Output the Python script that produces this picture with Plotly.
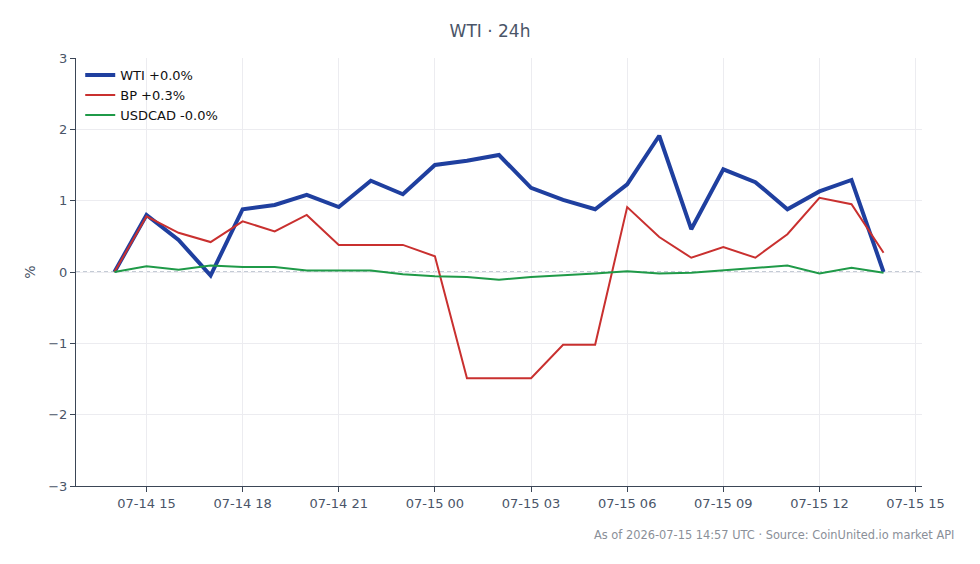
import plotly.graph_objects as go
import pandas as pd

times = pd.date_range("2026-07-14 14:00", "2026-07-15 14:00", freq="h")

wti = [0.0, 0.80, 0.45, -0.05, 0.88, 0.94, 1.08, 0.91, 1.28, 1.09, 1.50, 1.56, 1.64,
       1.18, 1.01, 0.88, 1.23, 1.91, 0.60, 1.44, 1.26, 0.88, 1.13, 1.29, 0.0]
bp = [0.0, 0.78, 0.55, 0.42, 0.71, 0.57, 0.80, 0.38, 0.38, 0.38, 0.22, -1.49, -1.49,
      -1.49, -1.02, -1.02, 0.91, 0.49, 0.20, 0.35, 0.20, 0.53, 1.04, 0.95, 0.27]
usdcad = [0.0, 0.08, 0.03, 0.09, 0.07, 0.07, 0.02, 0.02, 0.02, -0.03, -0.06, -0.07, -0.11,
          -0.07, -0.05, -0.02, 0.01, -0.02, -0.01, 0.02, 0.06, 0.09, -0.02, 0.06, -0.01]

names = ["WTI +0.0%", "BP +0.3%", "USDCAD -0.0%"]
colors = ["#1f3f9f", "#c9302f", "#1f9a48"]
widths = [4, 2, 2]

fig = go.Figure()
for vals, nm, c, w in zip([wti, bp, usdcad], names, colors, widths):
    fig.add_trace(go.Scatter(x=times, y=vals, mode="lines", name=nm,
                             line=dict(color=c, width=w)))

fig.add_shape(type="line", xref="paper", x0=0, x1=1, yref="y", y0=0, y1=0,
              line=dict(color="#8896ab", width=1, dash="4px,3px"), layer="below")

tick_color = "#4a5568"
axis_common = dict(showline=True, linecolor="#3b4656", linewidth=1, ticks="outside",
                   ticklen=5, tickcolor="#3b4656", gridcolor="#ececf0",
                   tickfont=dict(family="DejaVu Sans", size=13, color=tick_color),
                   zeroline=False)

fig.update_layout(
    width=980, height=564,
    margin=dict(l=76, r=58, t=58, b=78),
    plot_bgcolor="white", paper_bgcolor="white",
    font=dict(family="DejaVu Sans", size=13, color=tick_color),
    title=dict(text="WTI · 24h", x=0.5, xanchor="center", y=0.945, yanchor="middle",
               font=dict(family="DejaVu Sans", size=17, color=tick_color)),
    xaxis=dict(axis_common, type="date",
               range=["2026-07-14 12:48", "2026-07-15 15:12"],
               tick0="2026-07-14 00:00", dtick=3 * 3600 * 1000, tickformat="%m-%d %H"),
    yaxis=dict(axis_common, range=[-3, 3], dtick=1,
               title=dict(text="%", font=dict(family="DejaVu Sans", size=14, color=tick_color),
                          standoff=9)),
    legend=dict(x=0.005, y=0.995, xanchor="left", yanchor="top",
                bgcolor="rgba(255,255,255,0)",
                font=dict(family="DejaVu Sans", size=13, color="#111111")),
    showlegend=True,
)

fig.add_annotation(text="As of 2026-07-15 14:57 UTC · Source: CoinUnited.io market API",
                   xref="paper", yref="paper", x=1.04, y=-0.093, xanchor="right",
                   yanchor="top", showarrow=False,
                   font=dict(family="DejaVu Sans", size=11.4, color="#8a8f98"))

fig.write_html("out.html")
